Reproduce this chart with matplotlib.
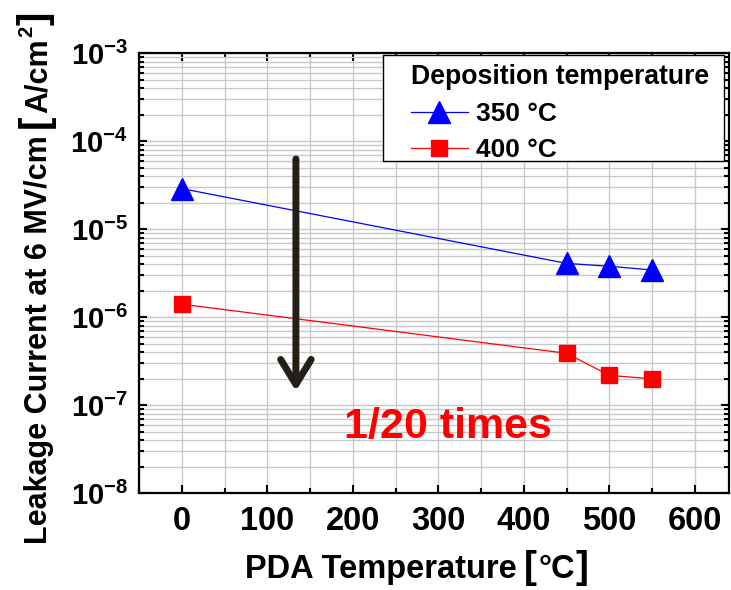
import numpy as np
import matplotlib
matplotlib.use("Agg")
import matplotlib.pyplot as plt
from matplotlib.ticker import MultipleLocator, FuncFormatter, LogLocator
from matplotlib.patches import Rectangle

plt.rcParams['font.family'] = ['Liberation Sans', 'DejaVu Sans']
plt.rcParams['mathtext.fontset'] = 'custom'
plt.rcParams['mathtext.rm'] = 'Liberation Sans:bold'
plt.rcParams['mathtext.bf'] = 'Liberation Sans:bold'
plt.rcParams['mathtext.it'] = 'Liberation Sans:bold'
plt.rcParams['mathtext.default'] = 'bf'

# ---- data ----
pda_temp = [0, 450, 500, 550]
leak_350 = [2.9e-5, 4.1e-6, 3.8e-6, 3.45e-6]
leak_400 = [1.41e-6, 3.9e-7, 2.19e-7, 2.0e-7]
series_labels = ['350 \u00b0C', '400 \u00b0C']
legend_title = 'Deposition temperature'
annotation_text = '1/20 times'
arrow_x = 133.5
arrow_from = 6.3e-5
arrow_to = 1.45e-7
text_pos = (311.8, 4.25e-8)
xticks = [0, 100, 200, 300, 400, 500, 600]

W, H = 731, 590
fig = plt.figure(figsize=(W / 100, H / 100), dpi=100)
ax = fig.add_axes([139 / W, (H - 493.3) / H, 590 / W, 440 / H])

ax.set_yscale('log')
ax.set_ylim(1e-8, 1e-3)
ax.set_xlim(-50, 640)

ax.plot(pda_temp, leak_350, color='#0000ff', lw=0.9, marker='^', ms=16,
        mfc='#0000ff', mec='#0000ff', label=series_labels[0], zorder=3)
ax.plot(pda_temp, leak_400, color='#ff0000', lw=0.9, marker='s', ms=11.5,
        mfc='#ff0000', mec='#ff0000', label=series_labels[1], zorder=3)

# grid & ticks
ax.set_xticks(xticks)
ax.xaxis.set_minor_locator(MultipleLocator(50))
ax.yaxis.set_major_locator(LogLocator(base=10, numticks=20))
ax.yaxis.set_minor_locator(LogLocator(base=10, subs=np.arange(2, 10), numticks=20))
ax.yaxis.set_minor_formatter(FuncFormatter(lambda v, p: ''))
ax.yaxis.set_major_formatter(FuncFormatter(
    lambda v, p: r'$\mathbf{10^{%d}}$' % int(round(np.log10(v)))))
ax.grid(which='both', color='#c8c8c8', lw=1.0, zorder=0)
ax.set_axisbelow(True)
ax.tick_params(which='both', direction='in', top=True, right=True, width=1.5)
ax.tick_params(which='major', length=6)
ax.tick_params(which='minor', length=3.5)
ax.tick_params(axis='x', which='major', labelsize=23.5, pad=9)
ax.tick_params(axis='y', which='major', labelsize=21, pad=8)
for lab in ax.get_xticklabels():
    lab.set_fontweight('bold')
for s in ax.spines.values():
    s.set_linewidth(1.6)

# arrow and annotation
ax.annotate('', xy=(arrow_x, arrow_to), xytext=(arrow_x, arrow_from),
            arrowprops=dict(arrowstyle='->,head_length=0.9,head_width=0.55',
                            lw=5, color='#231f16', shrinkA=0, shrinkB=0,
                            mutation_scale=20), zorder=4)
ax.text(text_pos[0], text_pos[1], annotation_text, color='#ff0000',
        fontsize=31, fontweight='bold', ha='center', va='baseline', zorder=4)

# legend frame + legend
ax.add_patch(Rectangle((383 / W, (H - 160.7) / H), 341 / W, 105.7 / H,
                       transform=fig.transFigure, fill=True, fc='white',
                       ec='black', lw=1.0, zorder=5, clip_on=False))
leg = ax.legend(loc='upper left', bbox_to_anchor=(411 / W, (H - 64.5) / H),
                bbox_transform=fig.transFigure, frameon=False, borderpad=0,
                borderaxespad=0, title=legend_title, alignment='left',
                prop=dict(weight='bold', size=19),
                title_fontproperties=dict(weight='bold', size=19.2),
                handlelength=2.15, handletextpad=0.3, labelspacing=0.45,
                numpoints=1)
leg.set_zorder(6)

# x label (pieces)
xb = 1 - 578 / H
t1 = fig.text(245 / W, xb, 'PDA Temperature', fontsize=23.5, fontweight='bold',
              ha='left', va='baseline')
t2 = ax.annotate('[', xy=(1, xb), xycoords=(t1, 'figure fraction'),
                 xytext=(5, 0), textcoords='offset points', fontsize=28,
                 fontweight='bold', ha='left', va='baseline', annotation_clip=False)
t3 = ax.annotate('\u00b0C', xy=(1, xb), xycoords=(t2, 'figure fraction'),
                 xytext=(1.5, 0), textcoords='offset points', fontsize=23.5,
                 fontweight='bold', ha='left', va='baseline', annotation_clip=False)
t4 = ax.annotate(']', xy=(1, xb), xycoords=(t3, 'figure fraction'),
                 xytext=(0.5, 0), textcoords='offset points', fontsize=28,
                 fontweight='bold', ha='left', va='baseline', annotation_clip=False)

# y label (pieces)
yb = 47 / W
common = dict(rotation=90, rotation_mode='anchor', ha='left', va='baseline',
              annotation_clip=False)
p1 = fig.text(yb, (H - 543.7) / H, 'Leakage Current at 6 MV/cm', fontsize=22,
              fontweight='bold', rotation=90, rotation_mode='anchor',
              ha='left', va='baseline')
p2 = ax.annotate('[', xy=(yb, 1), xycoords=('figure fraction', p1),
                 xytext=(0, 5), textcoords='offset points', fontsize=29,
                 fontweight='bold', **common)
p3 = ax.annotate('A/cm', xy=(yb, 1), xycoords=('figure fraction', p2),
                 xytext=(0, 1), textcoords='offset points', fontsize=22,
                 fontweight='bold', **common)
p4 = ax.annotate('2', xy=((47 - 15) / W, 1), xycoords=('figure fraction', p3),
                 xytext=(0, 1), textcoords='offset points', fontsize=14.5,
                 fontweight='bold', **common)
p5 = ax.annotate(']', xy=(yb, 1), xycoords=('figure fraction', p4),
                 xytext=(0, 1), textcoords='offset points', fontsize=29,
                 fontweight='bold', **common)

fig.savefig('out.png', dpi=100)
